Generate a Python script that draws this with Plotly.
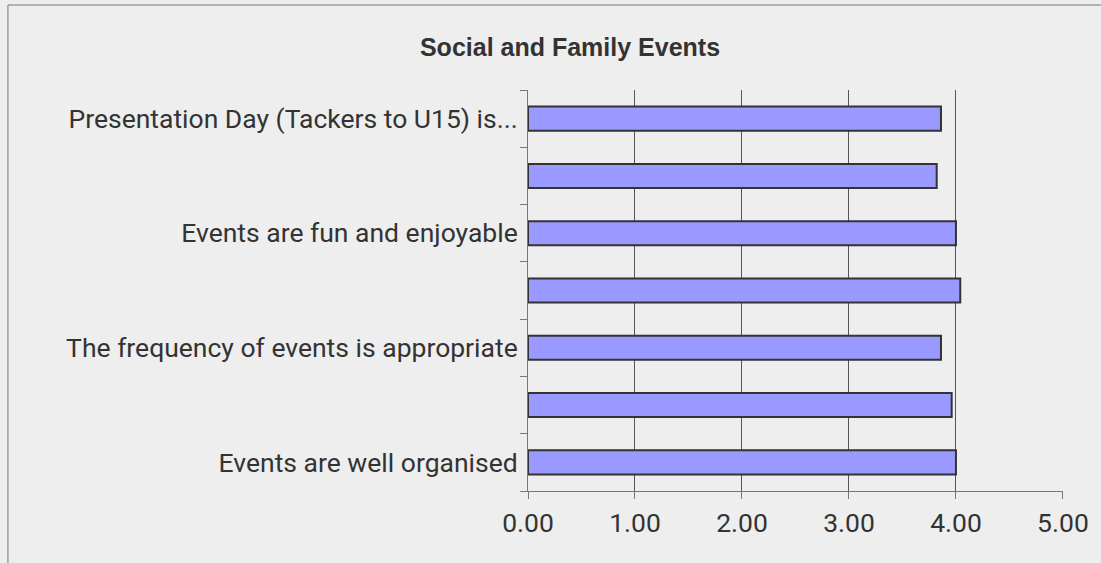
import plotly.graph_objects as go

categories = [
    "Presentation Day (Tackers to U15) is...",
    "Item 2",
    "Events are fun and enjoyable",
    "Item 4",
    "The frequency of events is appropriate",
    "Item 6",
    "Events are well organised",
]
shown_labels = [
    "Presentation Day (Tackers to U15) is...",
    "",
    "Events are fun and enjoyable",
    "",
    "The frequency of events is appropriate",
    "",
    "Events are well organised",
]
values = [3.86, 3.82, 4.00, 4.04, 3.86, 3.96, 4.00]
x_ticks = [0, 1, 2, 3, 4, 5]
x_ticktext = ["0.00", "1.00", "2.00", "3.00", "4.00", "5.00"]
title_text = "Social and Family Events"

positions = list(range(len(categories)))
boundaries = [p - 0.5 for p in positions] + [positions[-1] + 0.5]

fig = go.Figure(go.Bar(
    x=values,
    y=positions,
    orientation="h",
    width=0.42,
    marker=dict(color="#9999ff", line=dict(color="#333333", width=2)),
    hoverinfo="skip",
))

W, H = 1101, 563
L, R, T, B = 528, 36, 90, 72
pw, ph = W - L - R, H - T - B

fig.update_layout(
    width=W, height=H,
    margin=dict(l=L, r=R, t=T, b=B, pad=0),
    paper_bgcolor="#eeeeee",
    plot_bgcolor="#eeeeee",
    showlegend=False,
    title=dict(
        text=title_text,
        x=570 / W, xanchor="center",
        y=1 - 47 / H, yanchor="middle",
        font=dict(family="Liberation Sans", size=25, color="#333333", weight="bold"),
    ),
    font=dict(family="Roboto", color="#333333"),
    xaxis=dict(
        range=[0, 5.0005],
        tickvals=x_ticks,
        ticktext=x_ticktext,
        showgrid=True, gridcolor="#555555", gridwidth=1,
        zeroline=False,
        showline=True, linecolor="#777777", linewidth=1,
        ticks="outside", ticklen=7, tickcolor="#777777",
        tickfont=dict(family="Roboto", size=26.5, color="#333333"),
        ticklabelstandoff=1,
        fixedrange=True,
    ),
    yaxis=dict(
        range=[positions[-1] + 0.5, -0.5],
        tickvals=positions,
        ticktext=shown_labels,
        ticks="",
        showgrid=False,
        zeroline=False,
        showline=True, linecolor="#777777", linewidth=1,
        minor=dict(tickvals=boundaries, ticks="outside", ticklen=7,
                   tickcolor="#777777", showgrid=False),
        tickfont=dict(family="Roboto", size=26.5, color="#333333"),
        ticklabelstandoff=4,
        fixedrange=True,
    ),
    shapes=[dict(
        type="rect", xref="paper", yref="paper",
        x0=(6 - L) / pw, x1=(W + 20 - L) / pw,
        y0=-(B + 20) / ph, y1=1 + (T - 5) / ph,
        line=dict(color="#777777", width=1),
        fillcolor="rgba(0,0,0,0)", layer="below",
    )],
)

fig.write_html(
    "out.html",
    config={"displayModeBar": False},
    post_script="document.body.style.margin='0';document.body.style.padding='0';document.body.style.overflow='hidden';",
)
